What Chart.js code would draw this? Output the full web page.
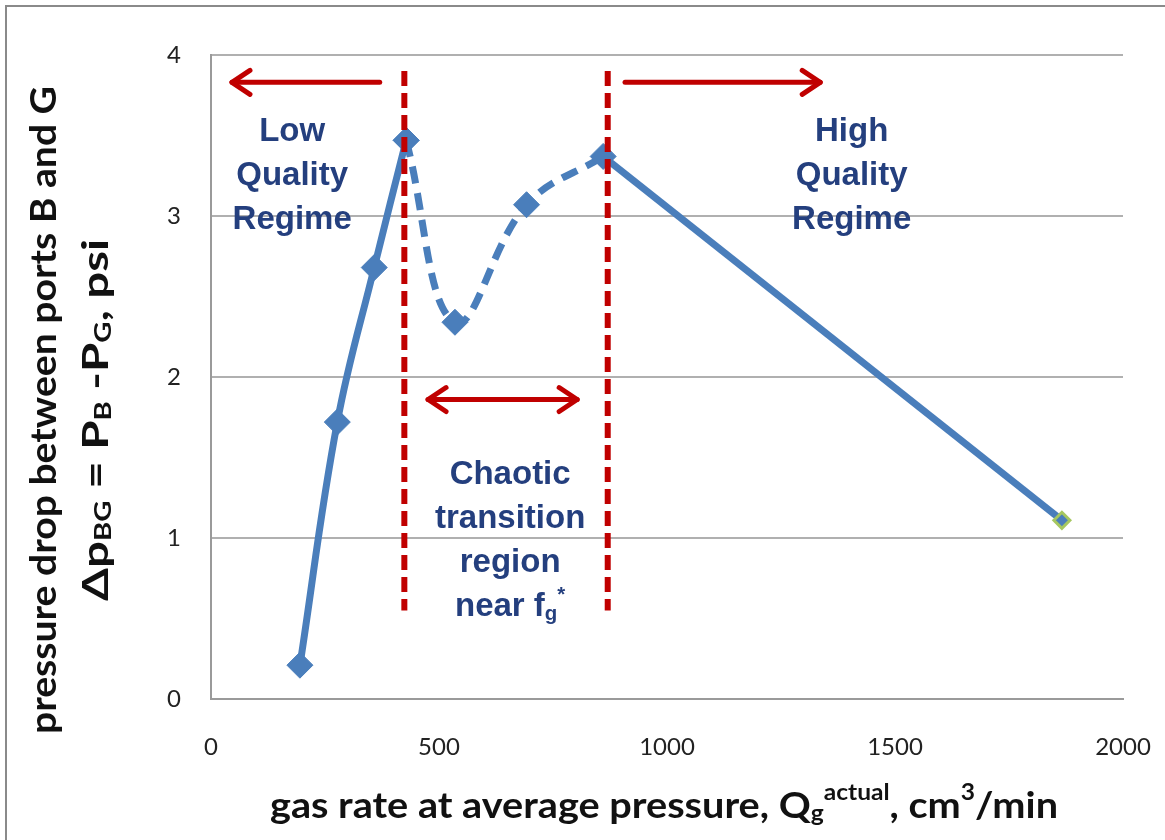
<!DOCTYPE html>
<html>
<head>
<meta charset="utf-8">
<script src="https://cdn.jsdelivr.net/npm/chart.js@4.4.0/dist/chart.umd.min.js"></script>
<style>
  html, body { margin: 0; padding: 0; background: #fff; }
  .wrap { position: relative; width: 1165px; height: 840px; }
  .frame { position: absolute; left: 5px; top: 5px; width: 1170px; height: 850px; border: 2px solid #8a8a8a; box-sizing: border-box; pointer-events: none; }
</style>
</head>
<body>
<div class="wrap">
  <canvas id="graph" width="1165" height="840"></canvas>
  <div class="frame"></div>
</div>
<script>
// data
const gasRate = [195, 277, 358, 428, 535, 692, 860, 1866];
const dpBG = [0.21, 1.72, 2.68, 3.47, 2.34, 3.07, 3.37, 1.11];
const xTicks = [0, 500, 1000, 1500, 2000];
const yTicks = [0, 1, 2, 3, 4];
// the chaotic part (dashed) runs from point 3 to point 6
const chaosStart = 3;
const chaosEnd = 6;

// regime boundaries and labels
const boundaries = [424, 870];
const boundaryRange = [3.9, 0.55];
const arrows = [
  { from: 370, to: 46, y: 3.83, both: false },
  { from: 908, to: 1336, y: 3.83, both: false },
  { from: 476, to: 803, y: 1.86, both: true }
];
const labels = [
  { x: 178, y: 3.52, lines: ['Low', 'Quality', 'Regime'] },
  { x: 1405, y: 3.52, lines: ['High', 'Quality', 'Regime'] },
  { x: 656, y: 1.39, lines: ['Chaotic', 'transition', 'region', 'near f_g*'] }
];

const blue = '#4a7ebb';
const red = '#c00000';
const navy = '#243f7e';

function pts(a, b) {
  return gasRate.slice(a, b).map((g, i) => ({ x: g, y: dpBG[a + i] }));
}

function drawRich(ctx, parts, size, font, target) {
  // parts: [text, mode] mode 0 normal, -1 sub, 1 sup
  let w = 0;
  const m = parts.map(p => {
    const s = p[1] ? size * 0.62 : size;
    ctx.font = font.replace('{s}', s);
    const pw = ctx.measureText(p[0]).width;
    w += pw;
    return { t: p[0], mode: p[1], s: s, w: pw };
  });
  if (target) ctx.scale(target / w, 1);
  let x = -w / 2;
  m.forEach(p => {
    ctx.font = font.replace('{s}', p.s);
    let dy = 0;
    if (p.mode === -1) dy = size * 0.22;
    if (p.mode === 1) dy = -size * 0.36;
    ctx.fillText(p.t, x, dy);
    x += p.w;
  });
}

function arrowHead(ctx, x, y, dir) {
  ctx.beginPath();
  ctx.moveTo(x - dir * 18, y - 12);
  ctx.lineTo(x, y);
  ctx.lineTo(x - dir * 18, y + 12);
  ctx.stroke();
}

const annotations = {
  id: 'annotations',
  afterDatasetsDraw(chart) {
    const ctx = chart.ctx;
    const xs = chart.scales.x, ys = chart.scales.y;
    ctx.save();
    // dashed boundaries
    ctx.strokeStyle = red;
    ctx.lineWidth = 6;
    ctx.setLineDash([15, 7]);
    boundaries.forEach(b => {
      const px = xs.getPixelForValue(b);
      ctx.beginPath();
      ctx.moveTo(px, ys.getPixelForValue(boundaryRange[0]));
      ctx.lineTo(px, ys.getPixelForValue(boundaryRange[1]));
      ctx.stroke();
    });
    // arrows
    ctx.setLineDash([]);
    ctx.lineWidth = 5;
    ctx.lineCap = 'round';
    ctx.lineJoin = 'round';
    arrows.forEach(a => {
      const x1 = xs.getPixelForValue(a.from), x2 = xs.getPixelForValue(a.to);
      const py = ys.getPixelForValue(a.y);
      ctx.beginPath();
      ctx.moveTo(x1, py);
      ctx.lineTo(x2, py);
      ctx.stroke();
      arrowHead(ctx, x2, py, x2 > x1 ? 1 : -1);
      if (a.both) arrowHead(ctx, x1, py, x1 > x2 ? 1 : -1);
    });
    // region labels
    ctx.fillStyle = navy;
    ctx.textBaseline = 'middle';
    labels.forEach(l => {
      const px = xs.getPixelForValue(l.x);
      let py = ys.getPixelForValue(l.y);
      l.lines.forEach(line => {
        ctx.save();
        ctx.translate(px, py);
        if (line.indexOf('_') >= 0) {
          const main = line.split('_')[0];
          const rest = line.split('_')[1];
          drawRich(ctx, [[main, 0], [rest.replace('*', ''), -1], ['*', 1]], 33, 'bold {s}px "Liberation Sans", Arial, sans-serif');
        } else {
          ctx.font = 'bold 33px "Liberation Sans", Arial, sans-serif';
          ctx.textAlign = 'center';
          ctx.fillText(line, 0, 0);
        }
        ctx.restore();
        py += 44;
      });
    });
    ctx.restore();
  },
  afterDraw(chart) {
    const ctx = chart.ctx;
    const font = 'bold {s}px Lato, "Open Sans", sans-serif';
    ctx.save();
    ctx.fillStyle = '#111';
    ctx.textBaseline = 'middle';
    ctx.textAlign = 'left';
    // x axis title
    ctx.save();
    ctx.translate(664, 806);
    drawRich(ctx, [['gas rate at average pressure, Q', 0], ['g', -1], ['actual', 1], [', cm', 0], ['3', 1], ['/min', 0]], 36, font, 788);
    ctx.restore();
    // y axis title, two rotated lines
    ctx.save();
    ctx.translate(44, 410);
    ctx.rotate(-Math.PI / 2);
    drawRich(ctx, [['pressure drop between ports B and G', 0]], 36, font, 648);
    ctx.restore();
    ctx.save();
    ctx.translate(96, 420);
    ctx.rotate(-Math.PI / 2);
    drawRich(ctx, [['\u0394p', 0], ['BG', -1], [' = P', 0], ['B', -1], [' -P', 0], ['G', -1], [', psi', 0]], 36, font, 362);
    ctx.restore();
    ctx.restore();
  }
};

const common = {
  borderColor: blue,
  borderWidth: 7,
  pointStyle: 'rectRot',
  pointRadius: 13,
  pointBackgroundColor: blue,
  pointBorderColor: blue,
  pointBorderWidth: 1
};

const graph = document.getElementById('graph').getContext('2d');
let myChart = new Chart(graph, {
  type: 'line',
  data: {
    datasets: [
      Object.assign({ label: 'low quality', data: pts(0, chaosStart + 1), tension: 0.4 }, common),
      Object.assign({ label: 'chaotic', data: pts(chaosStart, chaosEnd + 1), tension: 0.4, borderDash: [17, 10] }, common),
      Object.assign({ label: 'high quality', data: pts(chaosEnd, gasRate.length), tension: 0 }, common, {
        pointRadius: [0, 8],
        pointBorderColor: [blue, '#a6c760'],
        pointBorderWidth: [1, 3]
      })
    ]
  },
  plugins: [annotations],
  options: {
    responsive: false,
    animation: false,
    layout: { padding: { left: 0, top: 55, right: 42, bottom: 0 } },
    plugins: {
      legend: { display: false },
      tooltip: { enabled: false }
    },
    scales: {
      x: {
        type: 'linear',
        min: 0,
        max: 2000,
        afterBuildTicks: s => { s.ticks = xTicks.map(v => ({ value: v })); },
        afterFit: s => { s.height = 141; s.paddingRight = 0; s.paddingLeft = 0; },
        grid: { display: false },
        border: { color: '#9a9a9a', width: 2 },
        ticks: { padding: 26, color: '#222', font: { family: 'Lato', size: 24 }, callback: v => String(v) }
      },
      y: {
        min: 0,
        max: 4,
        afterBuildTicks: s => { s.ticks = yTicks.map(v => ({ value: v })); },
        afterFit: s => { s.width = 211; },
        grid: { color: '#b0b0b0', lineWidth: 2, drawTicks: false },
        border: { color: '#9a9a9a', width: 2 },
        ticks: { padding: 30, color: '#222', font: { family: 'Lato', size: 24 } }
      }
    }
  }
});
</script>
</body>
</html>
